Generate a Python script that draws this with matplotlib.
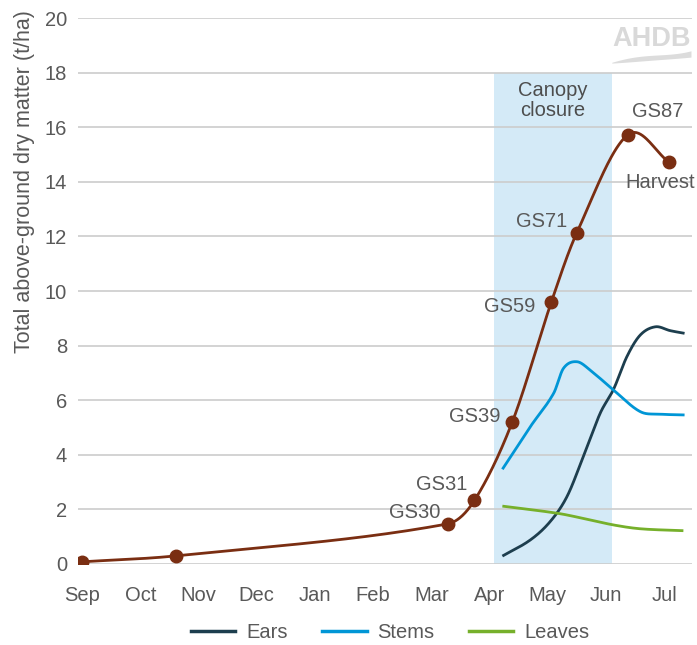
import numpy as np
import matplotlib
matplotlib.use("Agg")
import matplotlib.pyplot as plt
from matplotlib.lines import Line2D

plt.rcParams['font.family'] = ['Liberation Sans', 'DejaVu Sans']

months = ["Sep", "Oct", "Nov", "Dec", "Jan", "Feb", "Mar", "Apr", "May", "Jun", "Jul"]
yticks = [0, 2, 4, 6, 8, 10, 12, 14, 16, 18, 20]

# Total dry matter (x in months from Sep, y t/ha)
total_x = [0.0, 1.62, 6.28, 6.74, 7.39, 8.06, 8.50, 9.38, 10.09]
total_y = [0.08, 0.30, 1.47, 2.33, 5.20, 9.59, 12.14, 15.73, 14.71]
stage_labels = ["", "", "GS30", "GS31", "GS39", "GS59", "GS71", "GS87", "Harvest"]

ears_x = [7.22, 7.70, 8.04, 8.33, 8.61, 8.90, 9.13, 9.36, 9.59, 9.85, 10.10, 10.35]
ears_y = [0.29, 0.88, 1.55, 2.47, 3.93, 5.52, 6.40, 7.60, 8.39, 8.69, 8.55, 8.45]

stems_x = [7.22, 7.70, 8.10, 8.27, 8.50, 8.73, 9.13, 9.59, 9.93, 10.35]
stems_y = [3.47, 5.03, 6.25, 7.17, 7.41, 7.10, 6.37, 5.58, 5.49, 5.46]

leaves_x = [7.22, 8.16, 8.61, 9.13, 9.59, 10.33]
leaves_y = [2.12, 1.86, 1.67, 1.43, 1.29, 1.22]

canopy_start, canopy_end, canopy_top = 7.08, 9.10, 18

C_TOTAL = "#7a2e12"
C_EARS = "#1d3e4e"
C_STEMS = "#0096d6"
C_LEAVES = "#76b02b"
C_TEXT = "#595959"
C_GRID = "#cccccc"


def smooth(xs, ys, n=40):
    """Cubic Hermite (cardinal) spline through the points, as a function of x."""
    x = np.asarray(xs, float)
    y = np.asarray(ys, float)
    m = np.empty_like(y)
    m[1:-1] = (y[2:] - y[:-2]) / (x[2:] - x[:-2])
    m[0] = (y[1] - y[0]) / (x[1] - x[0])
    m[-1] = (y[-1] - y[-2]) / (x[-1] - x[-2])
    X, Y = [], []
    for i in range(len(x) - 1):
        h = x[i + 1] - x[i]
        t = np.linspace(0, 1, n, endpoint=False)
        h00 = 2 * t ** 3 - 3 * t ** 2 + 1
        h10 = t ** 3 - 2 * t ** 2 + t
        h01 = -2 * t ** 3 + 3 * t ** 2
        h11 = t ** 3 - t ** 2
        X.append(x[i] + t * h)
        Y.append(h00 * y[i] + h10 * h * m[i] + h01 * y[i + 1] + h11 * h * m[i + 1])
    X.append([x[-1]])
    Y.append([y[-1]])
    return np.concatenate(X), np.concatenate(Y)


fig = plt.figure(figsize=(6.97, 6.45), dpi=100)
ax = fig.add_axes([0.112, 0.1256, 0.881, 0.8464])
ax.set_xlim(-0.07, 10.48)
ax.set_ylim(0, 20)

ax.axvspan(canopy_start, canopy_end, ymin=0, ymax=canopy_top / 20, color="#d4eaf7", zorder=0, lw=0)

for y in yticks:
    ax.axhline(y, color=C_GRID, lw=1.2, zorder=1)

for xs, ys, c in [(ears_x, ears_y, C_EARS), (stems_x, stems_y, C_STEMS), (leaves_x, leaves_y, C_LEAVES)]:
    sx, sy = smooth(xs, ys)
    ax.plot(sx, sy, color=c, lw=2.0, zorder=3, solid_capstyle='butt')

sx, sy = smooth(total_x, total_y)
ax.plot(sx, sy, color=C_TOTAL, lw=2.0, zorder=4)
ax.plot(total_x, total_y, 'o', color=C_TOTAL, ms=9, zorder=5)

fs = 14.5
offsets = {
    "GS30": (-0.13, 0.43, 'right'),
    "GS31": (-0.12, 0.57, 'right'),
    "GS39": (-0.21, 0.20, 'right'),
    "GS59": (-0.28, -0.16, 'right'),
    "GS71": (-0.17, 0.40, 'right'),
    "GS87": (0.07, 0.83, 'left'),
    "Harvest": (0.44, -0.75, 'right'),
}
for x, y, lab in zip(total_x, total_y, stage_labels):
    if lab:
        dx, dy, ha = offsets[lab]
        ax.text(x + dx, y + dy, lab, ha=ha, va='center', fontsize=fs, color=C_TEXT,
                zorder=6, clip_on=False)

ax.text((canopy_start + canopy_end) / 2, 16.98, "Canopy\nclosure", ha='center', va='center',
        fontsize=fs, color="#4d4d4d", fontweight='normal', linespacing=1.05, zorder=6)

# AHDB watermark
ax.text(10.46, 19.24, "AHDB", ha='right', va='center', fontsize=19.5, color="#d9d9d9",
        fontweight='bold', zorder=2)
wx = np.linspace(9.10, 10.46, 60)
u = (wx - 9.10) / 1.36
upper = 18.38 + 0.30 * np.sin(u * np.pi * 0.9) * (1 - u) + 0.42 * u ** 2
lower = 18.35 + 0.05 * np.sin(u * np.pi) + 0.22 * u ** 2
ax.fill_between(wx, lower, upper, color="#dcdcdc", lw=0, zorder=2)

ax.set_xticks(range(len(months)))
ax.set_xticklabels(months)
ax.set_yticks(yticks)
ax.tick_params(axis='both', length=0, labelsize=fs, colors=C_TEXT)
ax.tick_params(axis='x', pad=16)
ax.tick_params(axis='y', pad=8)
for s in ax.spines.values():
    s.set_visible(False)
ax.set_ylabel("Total above-ground dry matter (t/ha)", fontsize=15.5, color=C_TEXT,
              va='center')
ax.yaxis.set_label_coords(-0.088, 0.70)

handles = [Line2D([0], [0], color=C_EARS, lw=2.5),
           Line2D([0], [0], color=C_STEMS, lw=2.5),
           Line2D([0], [0], color=C_LEAVES, lw=2.5)]
leg = fig.legend(handles, ["Ears", "Stems", "Leaves"], loc='center', bbox_to_anchor=(0.56, 0.019),
                 ncol=3, frameon=False, fontsize=fs, handlelength=2.2, columnspacing=1.7,
                 handletextpad=0.55, bbox_transform=fig.transFigure, borderpad=0.2)
for t in leg.get_texts():
    t.set_color(C_TEXT)

fig.savefig("out.png", dpi=100)
